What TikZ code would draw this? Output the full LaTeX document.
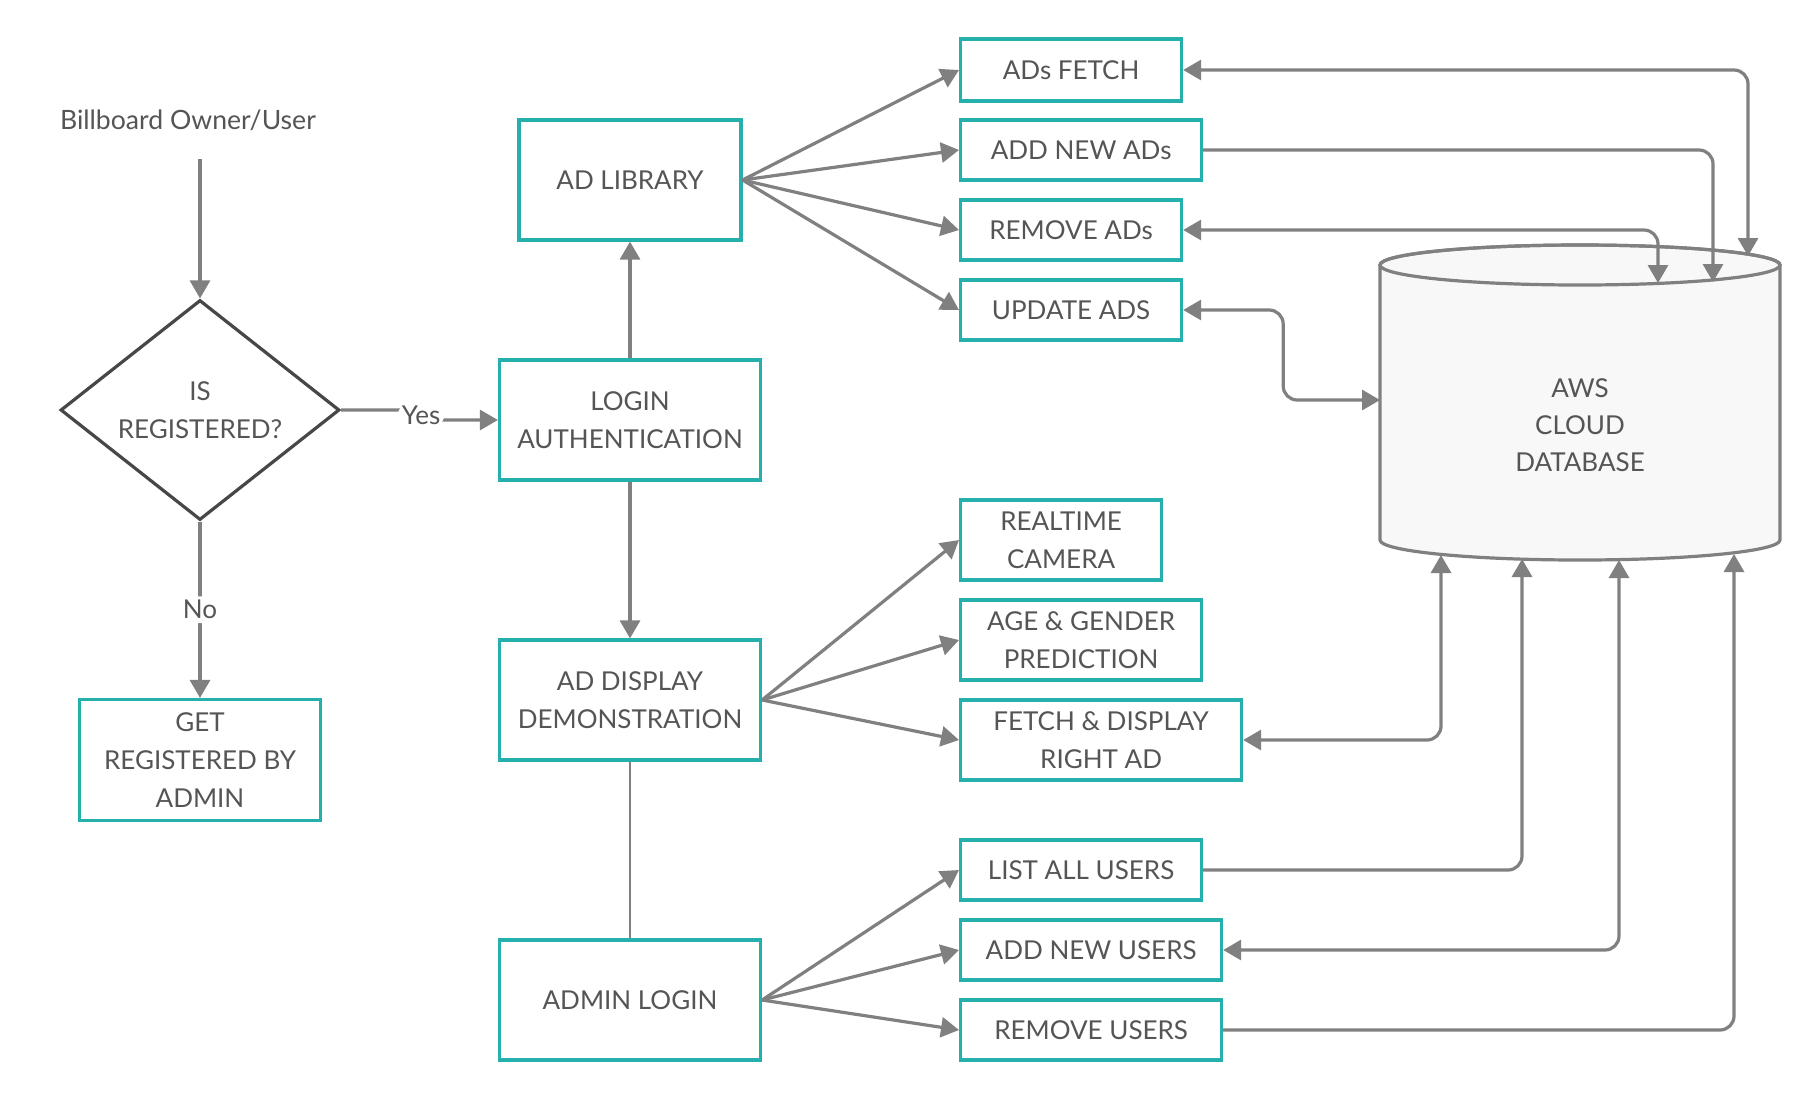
\documentclass[tikz,border=0pt]{standalone}
\usepackage{fontspec}
\setmainfont{Lato}
\usetikzlibrary{arrows.meta,shapes.geometric,positioning}
\definecolor{boxteal}{RGB}{38,176,173}
\definecolor{linegray}{RGB}{128,128,128}
\definecolor{textgray}{RGB}{85,85,85}
\definecolor{dbfill}{RGB}{248,248,248}
\tikzset{
  >={Triangle[length=9pt,width=10pt]},
  box/.style={draw=boxteal, line width=1.6pt, rectangle, align=center, inner sep=0pt, text=textgray, font=\fontsize{13}{19}\selectfont},
  link/.style={draw=linegray, line width=1.6pt, ->, rounded corners=7pt},
  dlink/.style={link, <->},
  tag/.style={fill=white, text=textgray, inner sep=2pt, font=\fontsize{13}{19}\selectfont}
}
\begin{document}
\begin{tikzpicture}[x=0.5pt,y=-0.5pt]
\fill[white] (0,0) rectangle (1820,1100);
\useasboundingbox (0,0) rectangle (1820,1100);

\node (isreg) at (200,410) [diamond, draw=black!72, line width=1.6pt, aspect=1.27, inner sep=0pt, minimum width=139.5pt, minimum height=110pt, align=center, text=textgray, font=\fontsize{13}{19}\selectfont]{IS\\REGISTERED?};
\node (owner) [above of=isreg, node distance=145pt, xshift=-6pt, text=textgray, font=\fontsize{13.3}{16}\selectfont]{Billboard Owner/User};
\node (getreg) [box, below of=isreg, node distance=175pt, minimum width=120.5pt, minimum height=60.5pt]{GET\\REGISTERED BY\\ADMIN};

\node (login) at (630,420) [box, minimum width=130.5pt, minimum height=60pt]{LOGIN\\AUTHENTICATION};
\node (adlib) [box, above of=login, node distance=120pt, minimum width=111pt, minimum height=60pt]{AD LIBRARY};
\node (addisp) [box, below of=login, node distance=140pt, minimum width=130.5pt, minimum height=60pt]{AD DISPLAY\\DEMONSTRATION};
\node (admin) [box, below of=addisp, node distance=150pt, minimum width=130.5pt, minimum height=60pt]{ADMIN LOGIN};

\node (adfetch) at (959,70) [box, anchor=west, minimum width=110.5pt, minimum height=31pt]{ADs FETCH};
\node (addads) at (959,150) [box, anchor=west, minimum width=120.5pt, minimum height=30pt]{ADD NEW ADs};
\node (remads) at (959,230) [box, anchor=west, minimum width=110.5pt, minimum height=30pt]{REMOVE ADs};
\node (updads) at (959,310) [box, anchor=west, minimum width=110.5pt, minimum height=30pt]{UPDATE ADS};

\node (camera) at (959,540) [box, anchor=west, minimum width=100.5pt, minimum height=40pt]{REALTIME\\CAMERA};
\node (agegen) at (959,640) [box, anchor=west, minimum width=120.5pt, minimum height=40pt]{AGE \& GENDER\\PREDICTION};
\node (fetchshow) at (959,740) [box, anchor=west, minimum width=140.5pt, minimum height=40pt]{FETCH \& DISPLAY\\RIGHT AD};

\node (listusers) at (959,870) [box, anchor=west, minimum width=120.5pt, minimum height=30pt]{LIST ALL USERS};
\node (addusers) at (959,950) [box, anchor=west, minimum width=130.5pt, minimum height=30pt]{ADD NEW USERS};
\node (remusers) at (959,1030) [box, anchor=west, minimum width=130.5pt, minimum height=30pt]{REMOVE USERS};

% database cylinder
\filldraw[fill=dbfill, draw=linegray, line width=1.6pt] (1380,265) -- (1380,540) arc[start angle=180, end angle=360, x radius=100pt, y radius=10pt] -- (1780,265) arc[start angle=0, end angle=180, x radius=100pt, y radius=10pt] -- cycle;
\draw[linegray, line width=1.6pt] (1580,265) ellipse [x radius=100pt, y radius=10pt];
\node (db) at (1580,425) [align=center, text=textgray, font=\fontsize{13}{18.5}\selectfont]{AWS\\CLOUD\\DATABASE};
\coordinate (dbfetch) at (1748,256);
\coordinate (dbadd) at (1713,282);
\coordinate (dbremove) at (1658,283);
\coordinate (dbupdate) at (1380,400);
\coordinate (dbshow) at (1441,555);
\coordinate (dblist) at (1522,559);
\coordinate (dbnewuser) at (1619,560);
\coordinate (dbdropuser) at (1734,554);

\draw[link, shorten <=11pt] (owner.south -| isreg.north) -- (isreg.north);
\draw[link] (isreg.east) -- ++(80,0) |- node[tag, pos=0.25]{Yes} (login.west);
\draw[link] (isreg.south) -- node[tag]{No} (getreg.north);
\draw[link] (login.north) -- (adlib.south);
\draw[link] (login.south) -- (addisp.north);
\draw[draw=linegray, line width=1.2pt] (addisp.south) -- (admin.north);

\foreach \target in {adfetch,addads,remads,updads}
  \draw[link] (adlib.east) -- (\target.west);
\foreach \target in {camera,agegen,fetchshow}
  \draw[link] (addisp.east) -- (\target.west);
\foreach \target in {listusers,addusers,remusers}
  \draw[link] (admin.east) -- (\target.west);

\draw[dlink] (adfetch.east) -| (dbfetch);
\draw[link] (addads.east) -| (dbadd);
\draw[dlink] (remads.east) -| (dbremove);
\draw[dlink] (updads.east) -- ++(100,0) |- (dbupdate);
\draw[dlink] (fetchshow.east) -| (dbshow);
\draw[link] (listusers.east) -| (dblist);
\draw[dlink] (addusers.east) -| (dbnewuser);
\draw[link] (remusers.east) -| (dbdropuser);
\end{tikzpicture}
\end{document}
